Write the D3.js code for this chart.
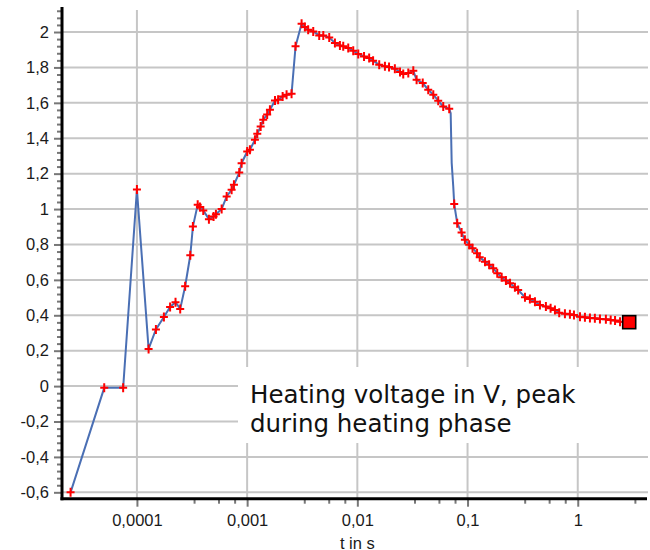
<!DOCTYPE html>
<html>
<head>
<meta charset="utf-8">
<script src="https://cdn.jsdelivr.net/npm/d3@7"></script>
<style>
  html, body { margin: 0; padding: 0; background: #fff; }
  svg { display: block; }
</style>
</head>
<body>
<svg id="chart" width="650" height="550"></svg>
<script>
// ---- data ----
const timeS = [
  2.50e-5, 5.05e-5, 7.5e-5, 1.0e-4, 1.276e-4, 1.487e-4, 1.757e-4, 2.0e-4, 2.24e-4, 2.47e-4,
  2.74e-4, 3.05e-4, 3.22e-4, 3.56e-4, 3.73e-4, 4.0e-4, 4.5e-4, 4.96e-4, 5.21e-4, 5.87e-4,
  6.52e-4, 7.23e-4, 7.59e-4, 8.48e-4, 8.91e-4, 1.002e-3, 1.06e-3, 1.177e-3, 1.236e-3, 1.327e-3,
  1.40e-3, 1.52e-3, 1.61e-3, 1.79e-3, 1.91e-3, 2.10e-3, 2.28e-3, 2.53e-3, 2.75e-3, 3.12e-3,
  3.34e-3, 3.58e-3, 3.98e-3, 4.51e-3, 4.91e-3, 5.56e-3, 6.26e-3, 6.95e-3, 7.45e-3, 8.27e-3,
  9.18e-3, 1.02e-2, 1.15e-2, 1.28e-2, 1.39e-2, 1.58e-2, 1.78e-2, 1.94e-2, 2.19e-2, 2.44e-2,
  2.61e-2, 2.90e-2, 3.22e-2, 3.45e-2, 3.92e-2, 4.40e-2, 4.89e-2, 5.42e-2, 6.02e-2, 6.82e-2,
  7.03e-2, 7.11e-2, 7.18e-2, 7.42e-2, 7.57e-2, 8.06e-2, 8.83e-2, 9.46e-2, 0.1035, 0.111,
  0.122, 0.129, 0.144, 0.157, 0.171, 0.186, 0.204, 0.223, 0.243, 0.269,
  0.288, 0.332, 0.368, 0.409, 0.454, 0.514, 0.567, 0.621, 0.679, 0.765,
  0.849, 0.924, 1.048, 1.162, 1.29, 1.43, 1.59, 1.80, 1.99, 2.18,
  2.42, 2.93
];
const voltageV = [
  -0.60, -0.01, -0.01, 1.11, 0.21, 0.32, 0.39, 0.447, 0.474, 0.436,
  0.564, 0.739, 0.901, 1.024, 1.011, 0.992, 0.943, 0.958, 0.971, 1.0,
  1.071, 1.109, 1.137, 1.206, 1.259, 1.325, 1.335, 1.391, 1.425, 1.466,
  1.504, 1.534, 1.561, 1.613, 1.617, 1.636, 1.646, 1.651, 1.919, 2.047,
  2.028, 2.013, 2.003, 1.981, 1.981, 1.969, 1.938, 1.924, 1.919, 1.910,
  1.894, 1.876, 1.862, 1.853, 1.838, 1.815, 1.806, 1.802, 1.793, 1.774,
  1.763, 1.768, 1.781, 1.730, 1.712, 1.674, 1.646, 1.612, 1.579, 1.566,
  1.542, 1.391, 1.261, 1.127, 1.028, 0.920, 0.867, 0.826, 0.798, 0.779,
  0.751, 0.728, 0.703, 0.685, 0.666, 0.638, 0.615, 0.596, 0.581, 0.558,
  0.543, 0.502, 0.492, 0.477, 0.458, 0.449, 0.440, 0.430, 0.415, 0.408,
  0.406, 0.402, 0.392, 0.389, 0.385, 0.383, 0.379, 0.378, 0.374, 0.370,
  0.364, 0.361
];
// 1 = red "+" marker, 0 = line point only, 2 = final square marker
const markerKind = [
  1,1,1,1,1,1,1,1,1,1, 1,1,1,1,1,1,1,1,1,1,
  1,1,1,1,1,1,1,1,1,1, 1,1,1,1,1,1,1,1,1,1,
  1,1,1,1,1,1,1,1,1,1, 1,1,1,1,1,1,1,1,1,1,
  1,1,1,1,1,1,1,1,1,1, 0,0,0,0,1,1,1,1,1,1,
  1,1,1,1,1,1,1,1,1,1, 1,1,1,1,1,1,1,1,1,1,
  1,1,1,1,1,1,1,1,1,1, 1,2
];
const xMajorTicks = [1e-4, 1e-3, 1e-2, 1e-1, 1];
const xTickLabels = ["0,0001", "0,001", "0,01", "0,1", "1"];
const xMinorMantissas = [3.3, 5.5, 7.7];
const yMajorTicks = [-0.6, -0.4, -0.2, 0, 0.2, 0.4, 0.6, 0.8, 1, 1.2, 1.4, 1.6, 1.8, 2];
const yTickLabels = ["-0,6", "-0,4", "-0,2", "0", "0,2", "0,4", "0,6", "0,8", "1", "1,2", "1,4", "1,6", "1,8", "2"];
const xAxisTitle = "t in s";
const annotationLines = ["Heating voltage in V, peak", "during heating phase"];

// ---- chart ----
(function () {
const svg = d3.select("#chart");
const pLeft = 62, pRight = 647, pTop = 9, pBottom = 498.7;

const x = d3.scaleLog().domain([2.09e-5, 4.25]).range([pLeft, pRight]);
const y = d3.scaleLinear().domain([-0.636, 2.13]).range([pBottom, pTop]);

const data = timeS.map((t, i) => ({ t, v: voltageV[i], k: markerKind[i] }));

// grid
const grid = svg.append("g").attr("stroke", "#c6c6c6").attr("stroke-width", 2);
grid.selectAll("line.h").data(yMajorTicks).join("line").attr("class", "h")
  .attr("x1", pLeft).attr("x2", 648)
  .attr("y1", d => y(d)).attr("y2", d => y(d));
grid.selectAll("line.v").data(xMajorTicks).join("line").attr("class", "v")
  .attr("x1", d => x(d)).attr("x2", d => x(d))
  .attr("y1", 10).attr("y2", pBottom);

// annotation background
svg.append("rect").attr("x", 238).attr("y", 367).attr("width", 412).attr("height", 76).attr("fill", "#fff");

// line
svg.append("path").datum(data)
  .attr("fill", "none").attr("stroke", "#4a6fb4").attr("stroke-width", 2)
  .attr("d", d3.line().x(d => x(d.t)).y(d => y(d.v)));

// plus markers
svg.append("g").attr("stroke", "#ff0000").attr("stroke-width", 2)
  .selectAll("path").data(data.filter(d => d.k === 1)).join("path")
  .attr("d", d => {
    const cx = x(d.t), cy = y(d.v);
    return `M${cx-4},${cy}H${cx+4}M${cx},${cy-4.5}V${cy+4.5}`;
  });

// final square marker
svg.append("g").selectAll("rect").data(data.filter(d => d.k === 2)).join("rect")
  .attr("x", d => x(d.t) - 6.5).attr("y", d => y(d.v) - 6.5)
  .attr("width", 13).attr("height", 13)
  .attr("fill", "#ff0000").attr("stroke", "#000").attr("stroke-width", 1.6);

// y axis
const yMinor = d3.range(-0.6, 2.13, 0.04).map(v => +v.toFixed(2))
  .filter(v => Math.abs(Math.round(v * 5) - v * 5) > 1e-6);
const yAxisMinor = svg.append("g").attr("transform", `translate(${pLeft},0)`)
  .call(d3.axisLeft(y).tickValues(yMinor).tickSize(5).tickFormat(""));
const yAxis = svg.append("g").attr("transform", `translate(${pLeft},0)`)
  .call(d3.axisLeft(y).tickValues(yMajorTicks).tickSize(8).tickPadding(5)
    .tickFormat((d, i) => yTickLabels[i]));
[yAxisMinor, yAxis].forEach(g => {
  g.select(".domain").remove();
  g.selectAll(".tick line").attr("stroke", "#777").attr("stroke-width", 2);
});
yAxis.selectAll(".tick text")
  .attr("font-family", "'Liberation Sans', Arial, sans-serif")
  .attr("font-size", 16.5).attr("fill", "#1a1a1a");

// x axis
const xMinor = [];
[-4, -3, -2, -1, 0].forEach(e => xMinorMantissas.forEach(m => {
  const v = m * Math.pow(10, e);
  if (v < 4.25) xMinor.push(v);
}));
const xAxisMinor = svg.append("g").attr("transform", `translate(0,${pBottom})`)
  .call(d3.axisBottom(x).tickValues(xMinor).tickSize(5).tickFormat(""));
const xAxis = svg.append("g").attr("transform", `translate(0,${pBottom})`)
  .call(d3.axisBottom(x).tickValues(xMajorTicks).tickSize(8).tickPadding(8)
    .tickFormat((d, i) => xTickLabels[i]));
[xAxisMinor, xAxis].forEach(g => {
  g.select(".domain").remove();
  g.selectAll(".tick line").attr("stroke", "#777").attr("stroke-width", 2);
});
xAxis.selectAll(".tick text")
  .attr("font-family", "'Liberation Sans', Arial, sans-serif")
  .attr("font-size", 16.5).attr("fill", "#1a1a1a");

// axis lines
svg.append("line").attr("x1", pLeft).attr("x2", pLeft).attr("y1", 7).attr("y2", pBottom + 1.5)
  .attr("stroke", "#000").attr("stroke-width", 3);
svg.append("line").attr("x1", pLeft - 1.5).attr("x2", pRight).attr("y1", pBottom).attr("y2", pBottom)
  .attr("stroke", "#000").attr("stroke-width", 3);

// x title
svg.append("text").attr("x", x(0.01)).attr("y", 548.5).attr("text-anchor", "middle")
  .attr("font-family", "'Liberation Sans', Arial, sans-serif").attr("font-size", 16.5)
  .attr("fill", "#1a1a1a").text(xAxisTitle);

// annotation
const ann = svg.append("g").attr("font-family", "'DejaVu Sans', sans-serif")
  .attr("font-size", 24.5).attr("fill", "#111");
ann.selectAll("text").data(annotationLines).join("text")
  .attr("x", 250).attr("y", (d, i) => 402.5 + i * 29).text(d => d);
})();
</script>
</body>
</html>
